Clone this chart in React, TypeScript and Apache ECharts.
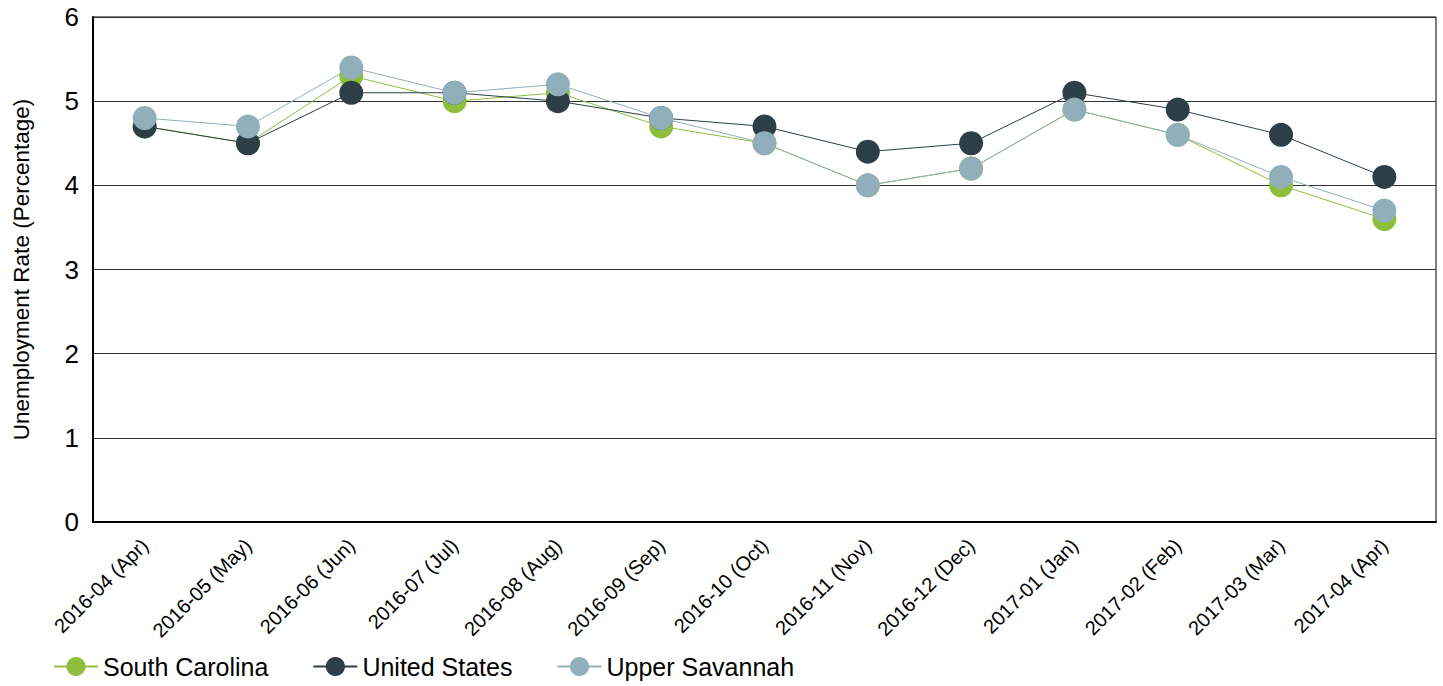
import React, { useEffect, useRef } from "react";
import * as echarts from "echarts";

const categories = [
  "2016-04 (Apr)", "2016-05 (May)", "2016-06 (Jun)", "2016-07 (Jul)", "2016-08 (Aug)",
  "2016-09 (Sep)", "2016-10 (Oct)", "2016-11 (Nov)", "2016-12 (Dec)", "2017-01 (Jan)",
  "2017-02 (Feb)", "2017-03 (Mar)", "2017-04 (Apr)",
];
const southCarolina = [4.7, 4.5, 5.3, 5.0, 5.1, 4.7, 4.5, 4.0, 4.2, 4.9, 4.6, 4.0, 3.6];
const unitedStates = [4.7, 4.5, 5.1, 5.1, 5.0, 4.8, 4.7, 4.4, 4.5, 5.1, 4.9, 4.6, 4.1];
const upperSavannah = [4.8, 4.7, 5.4, 5.1, 5.2, 4.8, 4.5, 4.0, 4.2, 4.9, 4.6, 4.1, 3.7];

const FONT = "'Liberation Sans', Arial, sans-serif";

export default function App() {
  const ref = useRef<HTMLDivElement>(null);
  useEffect(() => {
    if (!ref.current) return;
    const chart = echarts.init(ref.current, undefined, { renderer: "svg" });
    const mk = (name: string, data: number[], color: string) => ({
      name,
      type: "line",
      data,
      symbol: "circle",
      symbolSize: 24,
      itemStyle: { color },
      lineStyle: { color, width: 1 },
    });
    chart.setOption({
      animation: false,
      textStyle: { fontFamily: FONT },
      grid: {
        left: 93, right: 7, top: 17, bottom: 164,
        outerBoundsMode: "none",
        containLabel: false,
        show: true, borderColor: "#000", borderWidth: 1,
      },
      legend: {
        left: 48, top: 649,
        itemWidth: 44, itemHeight: 24, itemGap: 44,
        textStyle: { fontSize: 25, color: "#000", fontFamily: FONT },
        data: ["South Carolina", "United States", "Upper Savannah"],
      },
      xAxis: {
        type: "category",
        data: categories,
        boundaryGap: true,
        axisLine: { lineStyle: { color: "#000", width: 2 } },
        axisTick: { show: false },
        axisLabel: { rotate: 45, fontSize: 20, color: "#000", margin: 20, interval: 0 },
      },
      yAxis: {
        type: "value",
        min: 0, max: 6, interval: 1,
        name: "Unemployment Rate (Percentage)",
        nameLocation: "middle",
        nameGap: 60,
        nameTextStyle: { fontSize: 22.5, color: "#000" },
        axisLine: { show: true, lineStyle: { color: "#000", width: 2 } },
        axisTick: { show: false },
        axisLabel: { fontSize: 26, color: "#000", margin: 14 },
        splitLine: { lineStyle: { color: "#333", width: 1 } },
      },
      series: [
        mk("South Carolina", southCarolina, "#8dbf3d"),
        mk("United States", unitedStates, "#2c3f47"),
        mk("Upper Savannah", upperSavannah, "#91afba"),
      ],
    });
    return () => chart.dispose();
  }, []);
  return <div ref={ref} style={{ width: 1443, height: 686, position: "absolute", left: 0, top: 0 }} />;
}
